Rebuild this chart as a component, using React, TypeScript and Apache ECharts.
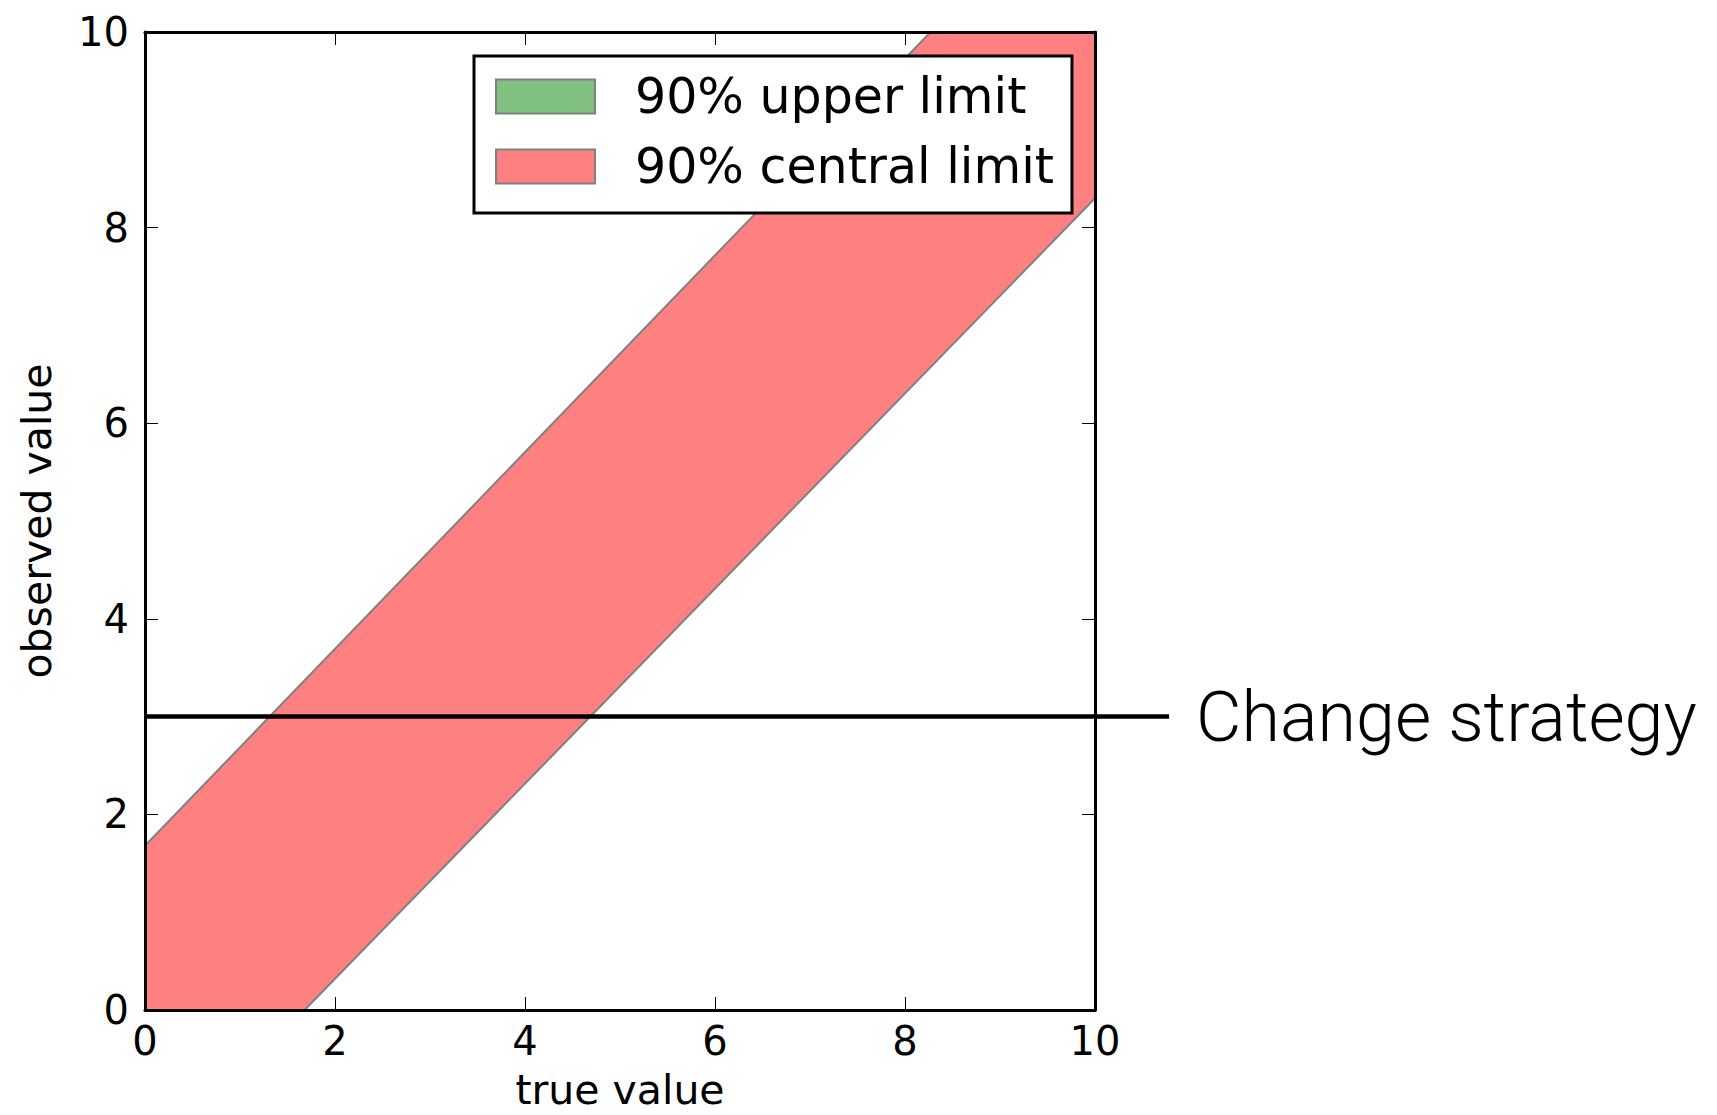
import React, { useEffect, useRef } from "react";
import * as echarts from "echarts";

// ---- data ----
const legendNames = ["90% upper limit", "90% central limit"];
const legendColors = ["#80c080", "#ff8080"];
const axisMin = 0;
const axisMax = 10;
const tickStep = 2;
const xAxisName = "true value";
const yAxisName = "observed value";
// band edges (true value, observed value)
const upperEdge = [
  [0, 1.68],
  [8.27, 10],
];
const lowerEdge = [
  [1.68, 0],
  [10, 8.3],
];
const bandPolygon = [
  [0, 0],
  [1.68, 0],
  [10, 8.3],
  [10, 10],
  [8.27, 10],
  [0, 1.68],
];
const strategyLine = [
  [0, 3],
  [10.78, 3],
];
const strategyLabel = "Change strategy";

const FONT = "DejaVu Sans";

export default function App() {
  const ref = useRef<HTMLDivElement>(null);
  useEffect(() => {
    if (!ref.current) return;
    const chart = echarts.init(ref.current, undefined, { renderer: "svg" });
    const axisLine = { show: true, onZero: false, lineStyle: { color: "#000", width: 3 } };
    const axisTick = { show: true, inside: true, length: 13, lineStyle: { color: "#000", width: 1 } };
    const labelStyle = { fontSize: 40, fontFamily: FONT, color: "#000" };
    const nameStyle = { fontSize: 41, fontFamily: FONT, color: "#000", lineHeight: 42 };
    const common = {
      type: "value",
      min: axisMin,
      max: axisMax,
      interval: tickStep,
      z: 10,
      axisLine,
      axisTick,
      splitLine: { show: false },
    };
    chart.setOption({
      animation: false,
      backgroundColor: "#fff",
      grid: {
        left: 145,
        right: 622,
        top: 32,
        bottom: 105,
        containLabel: false,
        outerBoundsMode: "none",
      },
      xAxis: [
        {
          ...common,
          position: "bottom",
          axisLabel: { ...labelStyle, margin: 11 },
          name: xAxisName,
          nameLocation: "middle",
          nameGap: 59,
          nameTextStyle: nameStyle,
        },
        { ...common, position: "top", axisLabel: { show: false } },
      ],
      yAxis: [
        {
          ...common,
          position: "left",
          axisLabel: { ...labelStyle, margin: 16 },
          name: yAxisName,
          nameLocation: "middle",
          nameGap: 87,
          nameRotate: 90,
          nameTextStyle: nameStyle,
        },
        { ...common, position: "right", axisLabel: { show: false } },
      ],
      legend: {
        data: legendNames,
        orient: "vertical",
        left: 474,
        top: 56,
        backgroundColor: "#fff",
        borderColor: "#000",
        borderWidth: 3,
        borderRadius: 0,
        padding: [16, 18, 22, 21],
        itemWidth: 99,
        itemHeight: 34,
        itemGap: 21,
        icon: "rect",
        selectedMode: false,
        itemStyle: { borderColor: "#808080", borderWidth: 2 },
        textStyle: { fontSize: 49, fontFamily: FONT, color: "#000", padding: [0, 0, 0, 35] },
      },
      series: [
        {
          name: legendNames[0],
          type: "custom",
          itemStyle: { color: legendColors[0] },
          data: [],
          renderItem: () => ({ type: "group", children: [] }),
        },
        {
          name: legendNames[1],
          type: "custom",
          itemStyle: { color: legendColors[1] },
          data: [[0, 0]],
          z: 1,
          renderItem: (_p: any, api: any) => {
            const pts = bandPolygon.map((p) => api.coord(p));
            const up = upperEdge.map((p) => api.coord(p));
            const lo = lowerEdge.map((p) => api.coord(p));
            return {
              type: "group",
              children: [
                { type: "polygon", shape: { points: pts }, style: { fill: legendColors[1], stroke: null } },
                { type: "polyline", shape: { points: up }, style: { stroke: "#808080", lineWidth: 2, fill: null } },
                { type: "polyline", shape: { points: lo }, style: { stroke: "#808080", lineWidth: 2, fill: null } },
              ],
            };
          },
        },
        {
          name: "strategy",
          type: "custom",
          data: [[0, 3]],
          clip: false,
          z: 3,
          renderItem: (_p: any, api: any) => {
            const a = api.coord(strategyLine[0]);
            const b = api.coord(strategyLine[1]);
            return {
              type: "group",
              children: [
                {
                  type: "line",
                  shape: { x1: a[0], y1: a[1], x2: b[0], y2: b[1] },
                  style: { stroke: "#000", lineWidth: 4.5 },
                },
                {
                  type: "text",
                  x: b[0] + 27,
                  y: b[1],
                  style: {
                    text: strategyLabel,
                    fontSize: 70,
                    fontFamily: "Roboto",
                    fontWeight: 300,
                    fill: "#000",
                    align: "left",
                    verticalAlign: "middle",
                  },
                },
              ],
            };
          },
        },
      ],
    });
    return () => chart.dispose();
  }, []);
  return (
    <div
      ref={ref}
      style={{ position: "absolute", left: 0, top: 0, width: 1717, height: 1115, background: "#fff" }}
    />
  );
}
